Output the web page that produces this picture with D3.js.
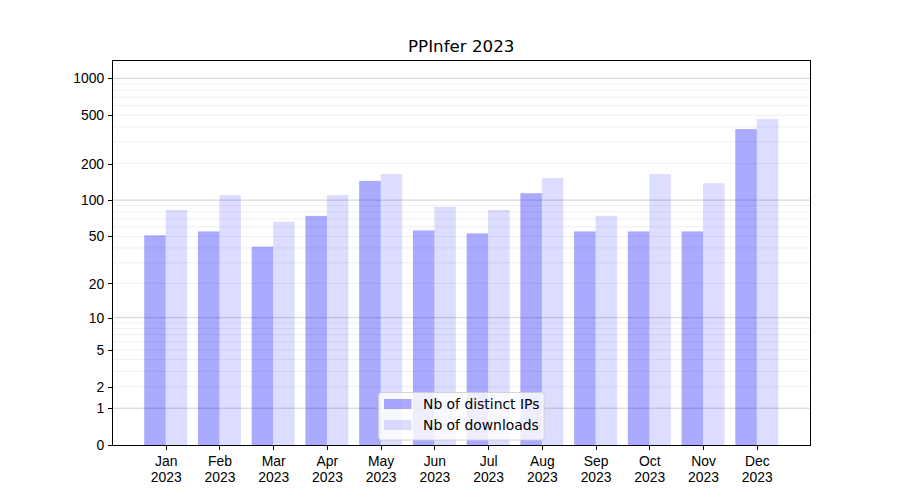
<!DOCTYPE html>
<html><head><meta charset="utf-8">
<script src="https://cdn.jsdelivr.net/npm/d3@7"></script>
<style>body{margin:0;background:#fff}svg{font-family:"DejaVu Sans",sans-serif}</style>
</head><body><svg id="c" width="900" height="500"></svg>
<script>
const months = ["Jan","Feb","Mar","Apr","May","Jun","Jul","Aug","Sep","Oct","Nov","Dec"];
const year = "2023";
const distinctIPs = [51, 55, 41, 74, 144, 56, 53, 114, 55, 55, 55, 384];
const downloads = [83, 110, 66, 110, 164, 88, 83, 152, 74, 164, 138, 464];
const yTicks = [0, 1, 2, 5, 10, 20, 50, 100, 200, 500, 1000];
const majorGrid = [1, 10, 100, 1000];
const minorGrid = [2,3,4,5,6,7,8,9,20,30,40,50,60,70,80,90,200,300,400,500,600,700,800,900];
const seriesNames = ["Nb of distinct IPs", "Nb of downloads"];
const title = "PPInfer 2023";

const L = 112.5, R = 810, T = 60, B = 445;
const svg = d3.select("#c");
const x = d3.scaleLinear().domain([-0.99, 11.99]).range([L, R]);
const y = d3.scaleSymlog().constant(1).domain([0, 1414]).range([B, T]);
const bw = x(0.4) - x(0);

// grid
svg.append("g").selectAll("line").data(minorGrid).join("line")
  .attr("x1", L).attr("x2", R).attr("y1", d => y(d)).attr("y2", d => y(d))
  .attr("stroke", "#ebebeb").attr("stroke-width", 0.8);
svg.append("g").selectAll("line").data(majorGrid).join("line")
  .attr("x1", L).attr("x2", R).attr("y1", d => y(d)).attr("y2", d => y(d))
  .attr("stroke", "#c4c4c4").attr("stroke-width", 0.8);

// bars
svg.append("g").selectAll("rect").data(distinctIPs).join("rect")
  .attr("x", (d, i) => x(i - 0.4)).attr("width", bw)
  .attr("y", d => y(d)).attr("height", d => B - y(d))
  .attr("fill", "blue").attr("fill-opacity", 0.333);
svg.append("g").selectAll("rect").data(downloads).join("rect")
  .attr("x", (d, i) => x(i)).attr("width", bw)
  .attr("y", d => y(d)).attr("height", d => B - y(d))
  .attr("fill", "blue").attr("fill-opacity", 0.135);

// axes
const xa = svg.append("g").attr("transform", `translate(0,${B})`)
  .call(d3.axisBottom(x).tickValues(d3.range(12)).tickSize(4.9).tickSizeOuter(0).tickFormat(""));
xa.select(".domain").remove();
xa.selectAll("line").attr("stroke", "#000").attr("stroke-width", 1).attr("shape-rendering", "crispEdges");
const xl = xa.selectAll(".tick").append("text").attr("fill", "#000")
  .attr("text-anchor", "middle").attr("font-size", "13.9px");
xl.append("tspan").attr("x", 0).attr("y", 21).text((d) => months[d]);
xl.append("tspan").attr("x", 0).attr("y", 37).text(year);

const ya = svg.append("g").attr("transform", `translate(${L},0)`)
  .call(d3.axisLeft(y).tickValues(yTicks).tickSize(4.9).tickSizeOuter(0).tickFormat(d => d));
ya.select(".domain").remove();
ya.selectAll("line").attr("stroke", "#000").attr("stroke-width", 1).attr("shape-rendering", "crispEdges");
ya.selectAll("text").attr("font-size", "13.9px").attr("fill", "#000").attr("x", -8.4).attr("dy", "0.33em");

// frame
svg.append("rect").attr("x", L).attr("y", T).attr("width", R - L).attr("height", B - T)
  .attr("fill", "none").attr("stroke", "#000").attr("stroke-width", 1).attr("shape-rendering", "crispEdges");

// title
svg.append("text").attr("x", (L + R) / 2).attr("y", 52).attr("text-anchor", "middle")
  .attr("font-size", "16.7px").attr("fill", "#000").text(title);

// legend
const lg = svg.append("g");
lg.append("rect").attr("x", 378.5).attr("y", 392.5).attr("width", 165.5).attr("height", 47.5)
  .attr("rx", 3).attr("fill", "#fff").attr("fill-opacity", 0.8).attr("stroke", "#cccccc").attr("stroke-width", 0.8);
const opac = [0.333, 0.135];
seriesNames.forEach((n, i) => {
  const yy = 399 + i * 21;
  lg.append("rect").attr("x", 384).attr("y", yy).attr("width", 27.5).attr("height", 10)
    .attr("fill", "blue").attr("fill-opacity", opac[i]);
  lg.append("text").attr("x", 423).attr("y", yy + 5).attr("dy", "0.35em")
    .attr("font-size", "13.9px").attr("fill", "#000").text(n);
});
</script></body></html>
